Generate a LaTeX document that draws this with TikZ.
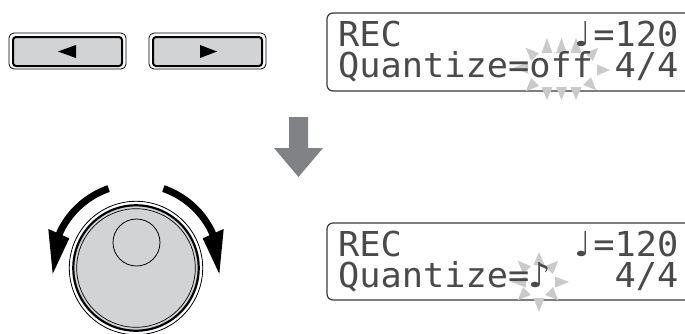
\documentclass[tikz,border=0pt]{standalone}
\usepackage{fontspec}
\usepackage{graphicx}
\newfontfamily\lcdfont{DejaVu Sans Mono}
\newfontfamily\notefont{DejaVu Sans}
\definecolor{btngray}{HTML}{D1D3D4}
\definecolor{arrowgray}{HTML}{808285}
\definecolor{sparkgray}{HTML}{C9CACC}
\definecolor{lcdink}{HTML}{4A4A4A}
\definecolor{lcdframe}{HTML}{3A3A3A}
\newcommand{\lcdtxt}[1]{\scalebox{1.03}[1]{\lcdfont\fontsize{34.3}{36}\selectfont #1}}
\newcommand{\qnote}{\makebox[0.602em][c]{\notefont ♩}}
\newcommand{\enote}{\makebox[0.602em][c]{\notefont ♪}}
\newcommand{\spk}[4]{\fill[sparkgray, shift={(#1,#2)}, rotate=#3] (0,-5.5) -- (#4,0) -- (0,5.5) -- cycle;}
\tikzset{
  lcdline/.style={anchor=base west, inner sep=0pt, outer sep=0pt, text=lcdink},
  btnouter/.style={draw=black, line width=0.8pt, rounded corners=5pt, fill=white},
  btninner/.style={draw=black, line width=2pt, rounded corners=3pt, fill=btngray},
  lcdbox/.style={draw=lcdframe, line width=1.2pt, rounded corners=6pt, fill=white},
}
\begin{document}
\begin{tikzpicture}[x=1pt, y=-1pt]
\useasboundingbox (0,0) rectangle (685,333);
\clip (0,0) rectangle (685,333);

% buttons
\draw[btnouter] (9,33) rectangle (126,69);
\draw[btninner] (13,37) rectangle (122,66);
\fill[black] (58,51.5) -- (76,45) -- (76,58) -- cycle;
\draw[btnouter] (149,33) rectangle (266,69);
\draw[btninner] (153,37) rectangle (262,66);
\fill[black] (217,51.5) -- (200,45) -- (200,58) -- cycle;

% down arrow
\fill[arrowgray] (289,117) -- (308,117) -- (308,148) -- (323,148) -- (298.5,177) -- (274,148) -- (289,148) -- cycle;

% dial
\begin{scope}[shift={(136,268)}, yscale=-1]
  \draw[line width=0.8pt, fill=white] (0,0) circle[radius=66.7];
  \draw[line width=2.2pt, fill=btngray] (0,0) circle[radius=62.7];
  \draw[line width=0.7pt] (0,0) circle[radius=59.3];
  \draw[line width=0.8pt] (0.5,25.5) circle[radius=23.5];
  \fill[black] (109:80.5) arc[start angle=109, end angle=156, radius=80.5]
     -- (156:73) -- (184:83.5) -- (156:96) -- (156:87.5)
     arc[start angle=156, end angle=109, radius=87.5] -- cycle;
  \begin{scope}[xscale=-1]
  \fill[black] (109:80.5) arc[start angle=109, end angle=156, radius=80.5]
     -- (156:73) -- (184:83.5) -- (156:96) -- (156:87.5)
     arc[start angle=156, end angle=109, radius=87.5] -- cycle;
  \end{scope}
\end{scope}

% LCD boxes
\draw[lcdbox] (327,13) rectangle (720,91);
\draw[lcdbox] (327,223) rectangle (720,300);

% sparkles (top)
\spk{547}{53}{90}{15}
\spk{561.5}{53}{90}{15}
\spk{576}{53}{90}{15}
\spk{547}{87}{270}{13}
\spk{561.5}{87}{270}{13}
\spk{576}{87}{270}{13}
\spk{535}{57}{135}{13}
\spk{589}{57}{45}{13}
\spk{535}{82}{225}{13}
\spk{587}{81}{315}{13}
\spk{597}{70}{0}{13}
\spk{528}{68}{180}{15}
% sparkles (bottom)
\spk{539}{265}{90}{13}
\spk{539}{298}{270}{14}
\spk{527}{270}{135}{13}
\spk{549}{270}{45}{13}
\spk{527}{291}{225}{13}
\spk{549}{291}{315}{13}
\spk{555}{282}{0}{14}
\spk{526}{282}{180}{15}

% LCD text (top)
\node[lcdline] (a1) at (338,46) {\lcdtxt{REC}};
\node[lcdline] (a2) at (572,46) {\lcdtxt{\qnote=120}};
\node[lcdline] (a3) at (338,77) {\lcdtxt{Quantize=off}};
\node[lcdline] (a4) at (614.5,77) {\lcdtxt{4/4}};
% LCD text (bottom)
\node[lcdline] (b1) at (338,256) {\lcdtxt{REC}};
\node[lcdline] (b2) at (572,256) {\lcdtxt{\qnote=120}};
\node[lcdline] (b3) at (338,287) {\lcdtxt{Quantize=\enote}};
\node[lcdline] (b4) at (614.5,287) {\lcdtxt{4/4}};
\end{tikzpicture}
\end{document}
